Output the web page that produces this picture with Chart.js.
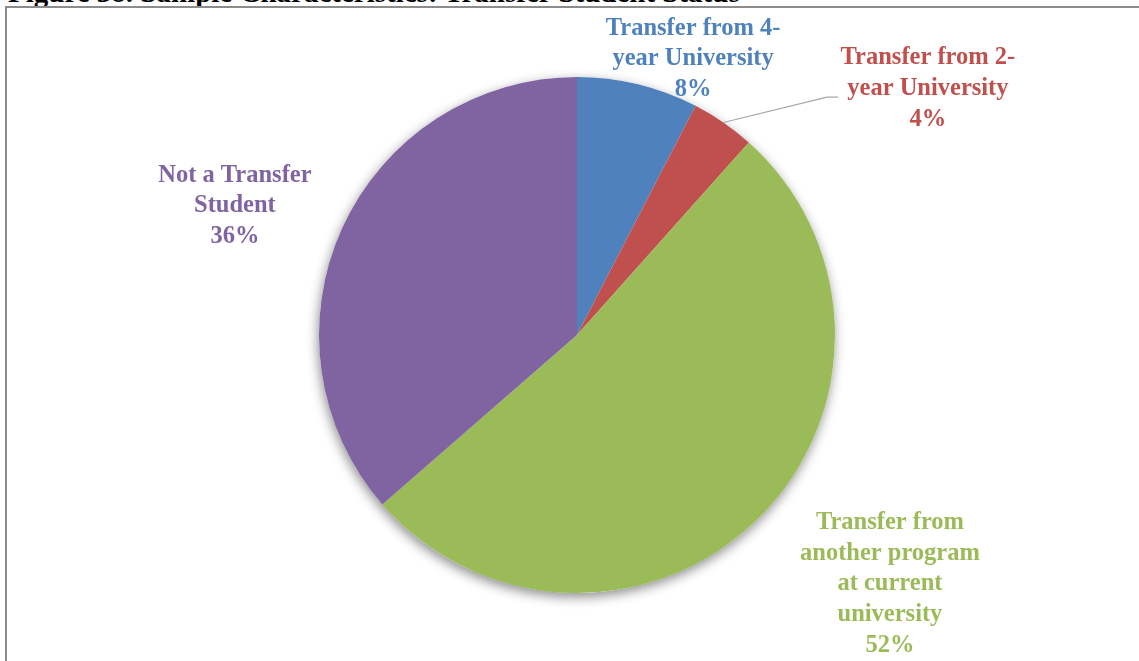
<!DOCTYPE html>
<html>
<head>
<meta charset="utf-8">
<script src="https://cdn.jsdelivr.net/npm/chart.js@4.4.0/dist/chart.umd.min.js"></script>
<style>
  html, body { margin: 0; padding: 0; background: #fff; overflow: hidden; }
  #wrap { position: relative; width: 1139px; height: 661px; overflow: hidden; }
  #title {
    position: absolute; left: 8px; top: -22px; margin: 0;
    font: bold 29px/29px "Liberation Serif", "Times New Roman", serif;
    color: #000; white-space: nowrap;
  }
  #frame {
    position: absolute; left: 5px; top: 6px; width: 1200px; height: 700px;
    border-left: 2px solid #8c8c8c; border-top: 2px solid #8c8c8c;
    background: #fff;
  }
  canvas { position: absolute; left: 0; top: 0; }
</style>
</head>
<body>
<div id="wrap">
  <p id="title">Figure 38. Sample Characteristics: Transfer Student Status</p>
  <div id="frame"></div>
  <canvas id="chart" width="1139" height="661"></canvas>
</div>
<script>
// 数据
const categories = [
  'Transfer from 4-year University',
  'Transfer from 2-year University',
  'Transfer from another program at current university',
  'Not a Transfer Student'
];
const shares = [7.6, 4.0, 52.0, 36.4];
const percentLabels = ['8%', '4%', '52%', '36%'];
const labelLines = [
  ['Transfer from 4-', 'year University'],
  ['Transfer from 2-', 'year University'],
  ['Transfer from', 'another program', 'at current', 'university'],
  ['Not a Transfer', 'Student']
];
const sliceColors = ['#4F81BD', '#C0504D', '#9BBB59', '#8064A2'];

// 标签位置（相对饼图中心，以半径为单位）
const labelPos = [
  { dx: 0.45, dy: -1.07 },
  { dx: 1.36, dy: -0.955 },
  { dx: 1.213, dy: 0.965 },
  { dx: -1.326, dy: -0.5 }
];
const leader = { index: 1, elbowX: 0.969, elbowY: -0.922, tail: 11 };

// 饼图阴影
const shadowPlugin = {
  id: 'pieShadow',
  beforeDatasetsDraw(chart) {
    const arc = chart.getDatasetMeta(0).data[0];
    if (!arc) return;
    const ctx = chart.ctx;
    ctx.save();
    ctx.shadowColor = 'rgba(0,0,0,0.45)';
    ctx.shadowBlur = 12;
    ctx.shadowOffsetX = -1;
    ctx.shadowOffsetY = 4;
    ctx.fillStyle = '#fff';
    ctx.beginPath();
    ctx.arc(arc.x, arc.y, arc.outerRadius, 0, Math.PI * 2);
    ctx.fill();
    ctx.restore();
  }
};

// 数据标签
const labelPlugin = {
  id: 'sliceLabels',
  afterDatasetsDraw(chart) {
    const arcs = chart.getDatasetMeta(0).data;
    const ctx = chart.ctx;
    const lineH = 30.7;
    ctx.save();
    ctx.font = 'bold 24.5px "Liberation Serif", "Times New Roman", serif';
    ctx.textAlign = 'center';
    ctx.textBaseline = 'middle';
    arcs.forEach((arc, i) => {
      const r = arc.outerRadius;
      const lines = labelLines[i].concat([percentLabels[i]]);
      const cx = arc.x + labelPos[i].dx * r;
      const cy = arc.y + labelPos[i].dy * r;
      const top = cy - (lines.length - 1) * lineH / 2;
      ctx.fillStyle = sliceColors[i];
      lines.forEach((t, k) => ctx.fillText(t, cx, top + k * lineH));
    });
    // 引导线
    const a = arcs[leader.index];
    if (a) {
      const mid = (a.startAngle + a.endAngle) / 2;
      const sx = a.x + Math.cos(mid) * a.outerRadius;
      const sy = a.y + Math.sin(mid) * a.outerRadius;
      const ex = a.x + leader.elbowX * a.outerRadius;
      const ey = a.y + leader.elbowY * a.outerRadius;
      ctx.strokeStyle = '#a6a6a6';
      ctx.lineWidth = 1.2;
      ctx.beginPath();
      ctx.moveTo(sx, sy);
      ctx.lineTo(ex, ey);
      ctx.lineTo(ex + leader.tail, ey);
      ctx.stroke();
    }
    ctx.restore();
  }
};

new Chart(document.getElementById('chart').getContext('2d'), {
  type: 'pie',
  data: {
    labels: categories,
    datasets: [{
      data: shares,
      backgroundColor: sliceColors,
      borderWidth: 0
    }]
  },
  options: {
    responsive: false,
    animation: false,
    layout: { padding: { top: 77, bottom: 68, left: 15, right: 0 } },
    plugins: {
      legend: { display: false },
      tooltip: { enabled: false }
    }
  },
  plugins: [shadowPlugin, labelPlugin]
});
</script>
</body>
</html>
